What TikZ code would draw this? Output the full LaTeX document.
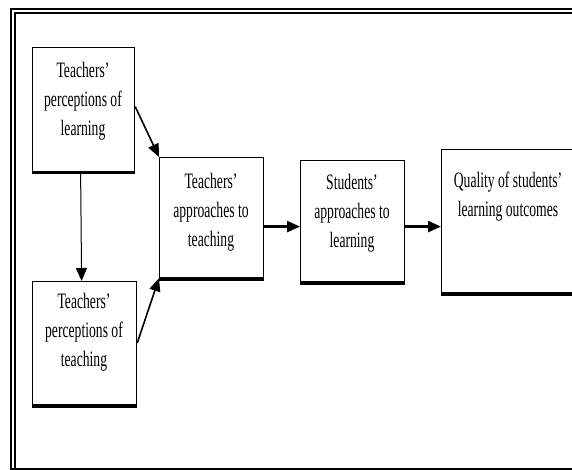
\documentclass[tikz,border=0pt]{standalone}
\usepackage{fontspec}
\setmainfont{Liberation Serif}[FakeStretch=0.62]
\usetikzlibrary{arrows.meta}
\begin{document}
\begin{tikzpicture}[x=1pt,y=1pt,
  box/.style={draw, line width=1.2pt, rectangle, inner sep=0pt, anchor=north west},
  txt/.style={align=center, inner sep=0pt, anchor=north, font=\fontsize{22}{29}\selectfont},
  arr/.style={-{Triangle[length=13pt,width=11pt]}},
  frameline/.style={line width=1.4pt},
  shadow/.style={line width=3pt}]
\clip (0,0) rectangle (572,-470);
\fill[white] (0,0) rectangle (572,-470);
% outer frame
\draw[frameline] (572,-9) -- (11,-9) -- (11,-469) -- (572,-469);
\draw[frameline] (572,-13) -- (15,-13) -- (15,-469);
% boxes
\node[box, minimum width=102pt, minimum height=124pt] (A) at (32,-47) {};
\node[box, minimum width=104pt, minimum height=123pt] (B) at (32,-281) {};
\node[box, minimum width=104pt, minimum height=120pt] (C) at (159,-157) {};
\node[box, minimum width=104pt, minimum height=121pt] (D) at (300,-160) {};
\node[box, minimum width=134pt, minimum height=143pt] (E) at (441,-149) {};
% thick bottom edges
\foreach \n in {A,B,C,D,E}{
  \draw[shadow] ([yshift=-0.8pt]\n.south west) -- ([yshift=-0.8pt]\n.south east);
}
% texts
\node[txt] (tA) at (83,-61) {\rule{0pt}{16pt}Teachers’\\perceptions of\\learning};
\node[txt] (tB) at (84,-292) {\rule{0pt}{16pt}Teachers’\\perceptions of\\teaching};
\node[txt] (tC) at (211,-172) {\rule{0pt}{16pt}Teachers’\\approaches to\\teaching};
\node[txt] (tD) at (352,-173) {\rule{0pt}{16pt}Students’\\approaches to\\learning};
\node[txt] (tE) at (508,-171) {\rule{0pt}{16pt}Quality of students’\\learning outcomes};
% connectors
\draw[arr, line width=1.6pt] ([yshift=3pt]A.east) -- (C.north west);
\draw[arr, line width=1.6pt] (B.east) -- (C.south west);
\draw[arr, line width=1pt] ([xshift=-3pt]A.south) -- ([xshift=-3pt]B.north);
\coordinate (h1) at ([yshift=-9pt]C.east);
\draw[arr, line width=2.5pt] (h1) -- (h1 -| D.west);
\coordinate (h2) at (h1 -| D.east);
\draw[arr, line width=2.5pt] (h2) -- (h2 -| E.west);
\end{tikzpicture}
\end{document}
